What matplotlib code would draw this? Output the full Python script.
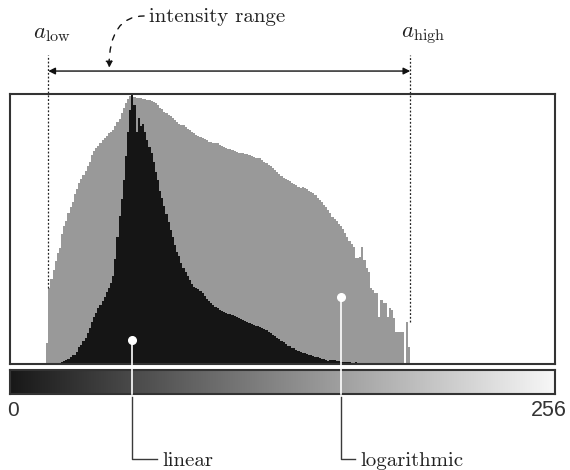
import numpy as np
import matplotlib.pyplot as plt
from matplotlib.colors import LinearSegmentedColormap

plt.rcParams['mathtext.fontset'] = 'cm'

N_BINS = 256  # intensity values 0..255

# logarithmic histogram (grey), % of box height, starting at bin 17
LOG_START = 17
LOG_COUNTS = [
    7.8, 28, 31.5, 35, 38, 41, 43, 48, 51, 53,
    56, 58, 60, 63, 65, 67, 68.5, 70, 71.5, 73.5,
    75, 77.5, 79, 80, 80.8, 82, 83, 83.6, 84.5, 85.5,
    86, 86.7, 88, 89.5, 90.6, 93, 95, 96.7, 98, 99.2,
    100, 99, 98.5, 98.5, 98.5, 98.3, 98, 97.8, 97.8, 97.5,
    97.2, 96.7, 96, 95, 94.3, 93.5, 93, 92.4, 91.8, 91,
    90.2, 89.5, 89, 88.7, 88.4, 87.8, 87.2, 86.7, 86, 85.5,
    84.9, 84.5, 84, 83.6, 83.2, 82.8, 82.3, 82.1, 82, 81.9,
    81.7, 81.2, 80.7, 80.3, 80, 79.8, 79.5, 79.2, 78.8, 78.5,
    78.3, 78.2, 78.1, 77.8, 77.6, 77.4, 77, 76.7, 76.4, 76.3,
    76.2, 75.5, 75, 74.4, 73.8, 73.2, 72.6, 71.9, 71, 70.2,
    69.6, 69, 68.4, 68, 67.6, 67, 66.8, 66.2, 65.6, 65.2,
    65.5, 65.3, 65, 64, 63.6, 63.3, 62.5, 61.5, 60.8, 60,
    59, 58.2, 57.2, 55.8, 54.6, 53.8, 53, 52, 51.2, 50,
    48.5, 47, 45.6, 44.5, 43.3, 39.3, 39.3, 39.5, 43.3, 38.5,
    35.5, 34, 28, 27.4, 26.3, 26.3, 17.4, 23.7, 22.6, 22.6,
    17.4, 20.7, 20, 17, 12, 12, 12, 12, 0, 15.7, 6.4,
]

# linear histogram (black), % of box height, starting at bin 22
LIN_START = 22
LIN_COUNTS = [
    0.4, 0.4, 0.6, 1, 1.5, 2, 2.6, 3.2, 3.5, 4.5,
    6.2, 7.2, 8.5, 9.6, 11.5, 13.5, 15.5, 17.4, 19, 20.7,
    22, 23.2, 25, 26.7, 28.3, 30, 32.5, 39, 47, 55,
    61, 68, 77, 86, 94, 100, 96, 86, 91, 88,
    89, 86, 83, 80.5, 78, 75, 71, 68, 64, 61.5,
    58.5, 55.5, 52.5, 49.5, 47, 44, 41.5, 40, 37.5, 35.5,
    34, 32.5, 31, 29.5, 28.5, 28, 27.6, 27.2, 26.2, 25.2,
    24.2, 23.5, 22.6, 21.8, 21.2, 20.6, 20, 19.7, 19.3, 19,
    18.7, 18.4, 18.2, 17.8, 17.5, 17.1, 16.8, 16.3, 15.9, 15.5,
    15.1, 14.8, 14.4, 14.2, 13.9, 13.7, 13.3, 12.9, 12.5, 12,
    11.4, 10.9, 10.4, 9.7, 9.1, 8.5, 8, 7.4, 6.8, 6.5,
    6.1, 5.8, 5.3, 4.8, 4.4, 4.1, 3.9, 3.6, 3.4, 3.2,
    3, 2.7, 2.5, 2.2, 2, 1.7, 1.4, 1.1, 1.5, 1.6,
    1.3, 1.2, 1, 0.9, 0.8, 0.7, 0.8, 0.6, 0.5, 0.4,
    0.6, 0.3, 0.5, 0.3,
]

A_LOW = 18
A_HIGH = 188
LIN_MARK = 57.3
LOG_MARK = 155.5

log_h = np.zeros(N_BINS)
log_h[LOG_START:LOG_START + len(LOG_COUNTS)] = LOG_COUNTS
lin_h = np.zeros(N_BINS)
lin_h[LIN_START:LIN_START + len(LIN_COUNTS)] = LIN_COUNTS
edges = np.arange(N_BINS + 1)

fig = plt.figure(figsize=(5.7, 4.7), dpi=100)
ax = fig.add_axes([10 / 570, 1 - 364 / 470, 545 / 570, 270 / 470], zorder=2)
ax_g = fig.add_axes([10 / 570, 1 - 394 / 470, 545 / 570, 24 / 470], zorder=1)

ax.stairs(log_h, edges, fill=True, color='#999999', lw=0)
ax.stairs(lin_h, edges, fill=True, color='#151515', lw=0)
ax.set_xlim(0, N_BINS)
ax.set_ylim(0, 100)
ax.set_xticks([])
ax.set_yticks([])
for s in ax.spines.values():
    s.set_linewidth(1.5)
    s.set_color('#333333')

# grey ramp under the histogram
ramp = LinearSegmentedColormap.from_list('ramp', ['#181818', '#f7f7f7'])
ax_g.imshow(np.arange(N_BINS)[None, :], cmap=ramp, aspect='auto',
            extent=(0, N_BINS, 0, 1))
ax_g.set_xlim(0, N_BINS)
ax_g.set_xticks([])
ax_g.set_yticks([])
for s in ax_g.spines.values():
    s.set_linewidth(1.5)
    s.set_color('#333333')
ax_g.text(1.5, -0.7, '0', ha='center', va='center', fontsize=15,
          family='Liberation Sans', color='#333333')
ax_g.text(244.5, -0.7, '256', ha='left', va='center', fontsize=15.5,
          family='Liberation Sans', color='#333333')

serif = dict(family='cmr10', fontsize=15, color='#222222')

# a_low / a_high markers and the range arrow
low_top = max(log_h[A_LOW - 1:A_LOW + 1])
high_top = max(log_h[A_HIGH - 2:A_HIGH])
for xv, ybot in [(A_LOW, low_top), (A_HIGH, high_top)]:
    ax.plot([xv, xv], [ybot, 114.4], color='#222222', lw=0.9,
            ls=(0, (1.5, 1.5)), clip_on=False)
ax.annotate('', xy=(A_LOW, 108.5), xytext=(A_HIGH, 108.5),
            arrowprops=dict(arrowstyle='<|-|>', lw=1, color='#111111',
                            shrinkA=0, shrinkB=0, mutation_scale=10),
            annotation_clip=False)
ax.text(19.5, 120.7, r'$a_{\mathrm{low}}$', ha='center', va='baseline',
        fontsize=16.5, color='#222222')
ax.text(194, 120.7, r'$a_{\mathrm{high}}$', ha='center', va='baseline',
        fontsize=16.5, color='#222222')

ax.text(65.3, 126.8, 'intensity range', ha='left', va='baseline', **serif)
ax.annotate('', xy=(46.5, 109.5), xytext=(63.0, 128.9),
            arrowprops=dict(arrowstyle='-|>', lw=1, color='#111111',
                            ls=(0, (4, 5)), shrinkA=0, shrinkB=0,
                            mutation_scale=10,
                            connectionstyle='angle3,angleA=0,angleB=90'),
            annotation_clip=False)

# pointers to the two histograms
for xm, ym, xend, label in [(LIN_MARK, 8.9, 69.0, 'linear'),
                            (LOG_MARK, 24.8, 162.0, 'logarithmic')]:
    ax.plot([xm, xm], [ym, -11.1], color='white', lw=1.2, clip_on=False, zorder=5)
    ax.plot([xm], [ym], 'o', color='white', ms=5.5, clip_on=False, zorder=6)
    ax.plot([xm, xm, xend], [-12.2, -35.2, -35.2], color='#3a3a3a', lw=1,
            clip_on=False)
    ax.text(xend + 2.8, -37.8, label, ha='left', va='baseline', **serif)

fig.savefig('out.png', dpi=100, facecolor='white')
